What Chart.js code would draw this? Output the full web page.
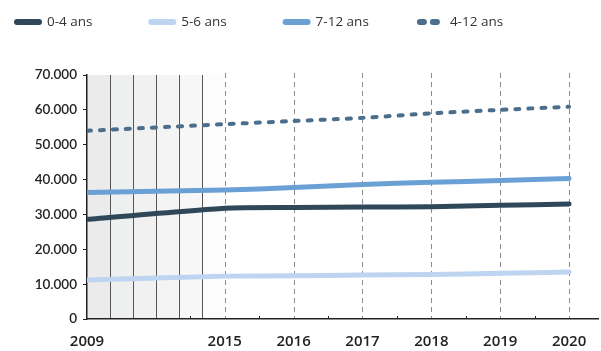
<!DOCTYPE html>
<html lang="fr">
<head>
  <meta charset="UTF-8" />
  <title>Enfants par tranche d'âge</title>
  <script src="https://cdn.jsdelivr.net/npm/chart.js"></script>
  <style>
    html, body {
      margin: 0;
      padding: 0;
      background: #ffffff;
    }
    .wrap {
      width: 601px;
      height: 351px;
    }
  </style>
</head>
<body>
  <div class="wrap">
    <canvas id="ageChart" width="601" height="351"></canvas>
  </div>

  <script>
    // years with a value on the chart
    const years = [2009, 2015, 2016, 2017, 2018, 2019, 2020];
    const tickYears = [2009, 2015, 2016, 2017, 2018, 2019, 2020];
    const bandYears = [2009, 2010, 2011, 2012, 2013, 2014];

    const ages0to4 = [28600, 31800, 32000, 32100, 32200, 32600, 33000];
    const ages5to6 = [11200, 12300, 12400, 12600, 12800, 13100, 13500];
    const ages7to12 = [36300, 37000, 37700, 38600, 39200, 39700, 40300];
    const ages4to12 = [54000, 55900, 56800, 57700, 59000, 60000, 60900];

    const yTicks = [0, 10000, 20000, 30000, 40000, 50000, 60000, 70000];

    // 2009-2015 squeezed on the axis, one year = 1 unit, then 3 units per year
    const pos = yr => yr <= 2015 ? yr - 2009 : 6 + (yr - 2015) * 3;
    const toPoints = arr => arr.map((v, i) => ({ x: pos(years[i]), y: v }));

    const bandColors = ['#ebebeb', '#eeefef', '#f1f1f1', '#f4f4f4', '#f7f7f7', '#fcfcfc'];

    const yearGrid = {
      id: 'yearGrid',
      beforeDraw(chart) {
        const { ctx, chartArea: a, scales: { x } } = chart;
        ctx.save();
        bandYears.forEach((yr, i) => {
          const x0 = x.getPixelForValue(pos(yr));
          const x1 = x.getPixelForValue(pos(yr + 1));
          ctx.fillStyle = bandColors[i];
          ctx.fillRect(x0, a.top, x1 - x0, a.bottom - a.top);
        });
        ctx.strokeStyle = '#555';
        ctx.lineWidth = 1;
        bandYears.slice(1).forEach(yr => {
          const px = Math.round(x.getPixelForValue(pos(yr))) + 0.5;
          ctx.beginPath();
          ctx.moveTo(px, a.top);
          ctx.lineTo(px, a.bottom);
          ctx.stroke();
        });
        ctx.strokeStyle = '#8a8a8a';
        ctx.setLineDash([5, 4]);
        tickYears.slice(1).forEach(yr => {
          const px = Math.round(x.getPixelForValue(pos(yr))) + 0.5;
          ctx.beginPath();
          ctx.moveTo(px, a.top - 2);
          ctx.lineTo(px, a.bottom);
          ctx.stroke();
        });
        ctx.setLineDash([]);
        // small marks on the axis between years
        ctx.strokeStyle = '#222';
        [4.5, 7.5, 10.5, 13.5, 16.5, 19.5].forEach(v => {
          const px = Math.round(x.getPixelForValue(v)) + 0.5;
          ctx.beginPath();
          ctx.moveTo(px, a.bottom - 3);
          ctx.lineTo(px, a.bottom);
          ctx.stroke();
        });
        ctx.restore();
      }
    };

    // legend spread evenly across the top
    const topLegend = {
      id: 'topLegend',
      afterDraw(chart) {
        const { ctx } = chart;
        ctx.save();
        chart.data.datasets.forEach((ds, i) => {
          const x0 = 14 + i * 134.3;
          const y = 22;
          ctx.strokeStyle = ds.borderColor;
          ctx.lineWidth = 6;
          ctx.lineCap = 'round';
          ctx.setLineDash(ds.borderDash ? [4, 9] : []);
          ctx.beginPath();
          ctx.moveTo(x0 + 3, y);
          ctx.lineTo(x0 + 25, y);
          ctx.stroke();
          ctx.setLineDash([]);
          ctx.fillStyle = '#333';
          ctx.font = '13.5px "Open Sans"';
          ctx.textBaseline = 'middle';
          ctx.fillText(ds.label, x0 + 33, y);
        });
        ctx.restore();
      }
    };

    const ctx = document.getElementById('ageChart').getContext('2d');

    new Chart(ctx, {
      type: 'line',
      data: {
        datasets: [
          {
            label: '0-4 ans',
            data: toPoints(ages0to4),
            borderColor: '#2e4759',
            borderWidth: 5,
            borderCapStyle: 'round',
            pointRadius: 0,
            tension: 0.2
          },
          {
            label: '5-6 ans',
            data: toPoints(ages5to6),
            borderColor: '#bdd5f0',
            borderWidth: 5,
            borderCapStyle: 'round',
            pointRadius: 0,
            tension: 0.2
          },
          {
            label: '7-12 ans',
            data: toPoints(ages7to12),
            borderColor: '#6ba0d5',
            borderWidth: 5,
            borderCapStyle: 'round',
            pointRadius: 0,
            tension: 0.2
          },
          {
            label: '4-12 ans',
            data: toPoints(ages4to12),
            borderColor: '#4b6e8d',
            borderWidth: 4,
            borderDash: [4, 9],
            borderCapStyle: 'round',
            pointRadius: 0,
            tension: 0.2
          }
        ]
      },
      options: {
        responsive: false,
        animation: false,
        layout: {
          padding: { left: 0, right: 3, top: 75, bottom: 1 }
        },
        plugins: {
          legend: { display: false },
          tooltip: { enabled: false }
        },
        scales: {
          x: {
            type: 'linear',
            min: 0,
            max: 22.26,
            afterBuildTicks: scale => {
              scale.ticks = tickYears.map(yr => ({ value: pos(yr) }));
            },
            afterFit: scale => { scale.height = 31; },
            grid: { display: false },
            border: { display: true, color: '#222', width: 1.5 },
            ticks: {
              autoSkip: false,
              maxRotation: 0,
              padding: 6,
              color: '#222',
              font: { family: 'Open Sans', size: 15, weight: '600' },
              callback: (v, i) => String(tickYears[i])
            }
          },
          y: {
            min: 0,
            max: 70000,
            afterBuildTicks: scale => {
              scale.ticks = yTicks.map(v => ({ value: v }));
            },
            afterFit: scale => { scale.width = 87; },
            grid: { drawOnChartArea: false, tickLength: 4, color: '#222' },
            border: { display: true, color: '#222', width: 1.5 },
            ticks: {
              padding: 6,
              color: '#222',
              font: { family: 'Lato', size: 13.5, weight: '600' },
              callback: v => v.toString().replace(/\B(?=(\d{3})+(?!\d))/g, '.')
            }
          }
        }
      },
      plugins: [yearGrid, topLegend]
    });
  </script>
</body>
</html>
